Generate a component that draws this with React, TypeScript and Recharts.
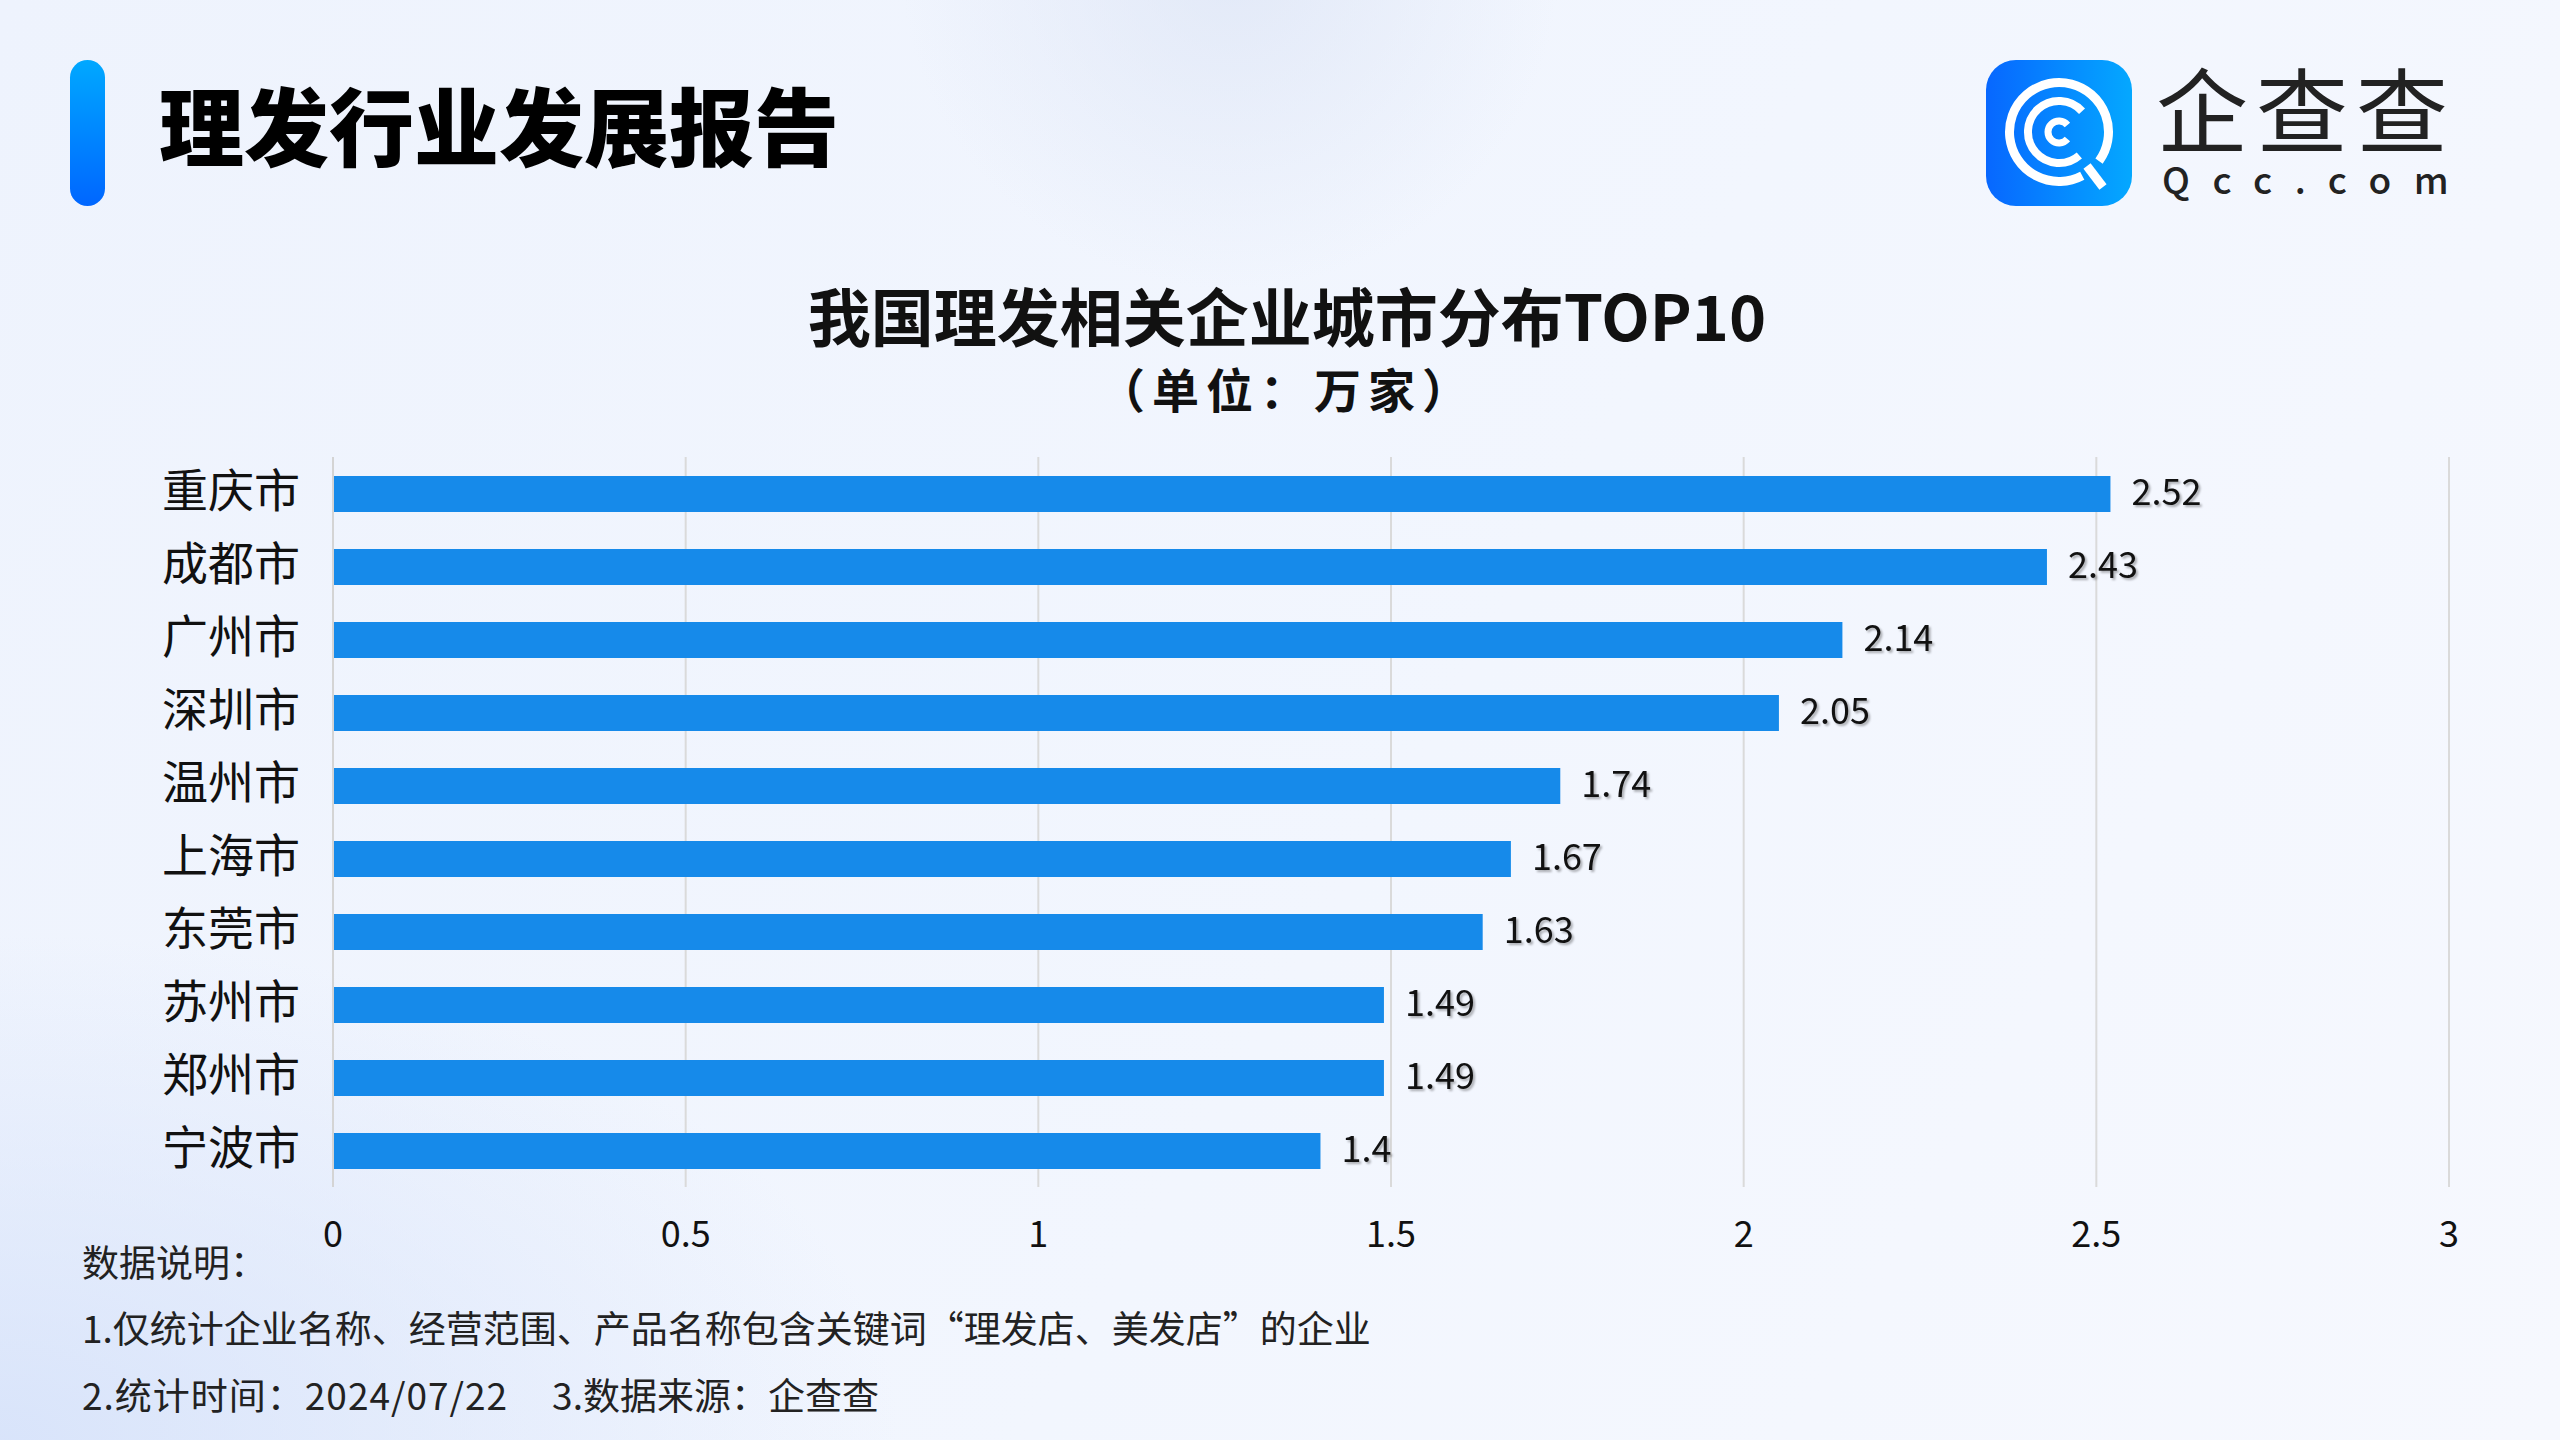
import { BarChart, Bar, XAxis, YAxis, CartesianGrid, LabelList } from 'recharts';

const cities = ['重庆市', '成都市', '广州市', '深圳市', '温州市', '上海市', '东莞市', '苏州市', '郑州市', '宁波市'];
const counts = [2.52, 2.43, 2.14, 2.05, 1.74, 1.67, 1.63, 1.49, 1.49, 1.4];
const xTicks = [0, 0.5, 1, 1.5, 2, 2.5, 3];

const notes = [
  '数据说明：',
  '1.仅统计企业名称、经营范围、产品名称包含关键词“理发店、美发店”的企业',
];
const noteDate = '2.统计时间：2024/07/22';
const noteSource = '3.数据来源：企查查';

const FONT = '"Noto Sans CJK SC", "Noto Sans", sans-serif';
const BAR_COLOR = '#168AEA';

const data = cities.map((name, i) => ({ name, value: counts[i] }));

// arc helper for the logo rings (angles in degrees, clockwise from +x)
function arc(cx: number, cy: number, r: number, from: number, to: number) {
  const rad = (d: number) => (d * Math.PI) / 180;
  const x1 = cx + r * Math.cos(rad(from));
  const y1 = cy + r * Math.sin(rad(from));
  const x2 = cx + r * Math.cos(rad(to));
  const y2 = cy + r * Math.sin(rad(to));
  const sweep = (to - from + 360) % 360;
  return `M ${x1} ${y1} A ${r} ${r} 0 ${sweep > 180 ? 1 : 0} 1 ${x2} ${y2}`;
}

function ValueLabel(props: any) {
  const { x, y, width, height, value } = props;
  return (
    <text
      x={x + width + 21}
      y={y + height / 2 - 5}
      dominantBaseline="central"
      fontSize={36}
      fontFamily={FONT}
      fill="#111"
      style={{ filter: 'drop-shadow(2px 2px 1px rgba(0,0,0,0.3))' }}
    >
      {value}
    </text>
  );
}

function Logo() {
  return (
    <div style={{ position: 'absolute', left: 1986, top: 60 }}>
      <svg width={146} height={146}>
        <defs>
          <linearGradient id="logoGrad" x1="0" y1="0" x2="1" y2="0">
            <stop offset="0%" stopColor="#0767ff" />
            <stop offset="100%" stopColor="#04a8ff" />
          </linearGradient>
        </defs>
        <rect x={0} y={0} width={146} height={146} rx={30} fill="url(#logoGrad)" />
        <g fill="none" stroke="#fff" strokeWidth={9}>
          <path d={arc(73, 72, 49.5, 62, 36)} />
          <path d={arc(73, 72, 31, 49, 318)} strokeWidth={8} />
          <path d={arc(73, 72, 11, 40, 320)} strokeWidth={7} />
          <line x1={101} y1={106} x2={117} y2={127} />
        </g>
      </svg>
      <div
        style={{
          position: 'absolute', left: 170, top: 6, fontFamily: FONT, fontSize: 92,
          lineHeight: '80px', color: '#222', letterSpacing: 8, whiteSpace: 'nowrap',
        }}
      >
        企查查
      </div>
      <div
        style={{
          position: 'absolute', left: 176, top: 100, fontFamily: FONT, fontSize: 37,
          lineHeight: '36px', color: '#222', letterSpacing: 22.5, fontWeight: 500, whiteSpace: 'nowrap',
        }}
      >
        Qcc.com
      </div>
    </div>
  );
}

export default function App() {
  return (
    <div
      style={{
        position: 'absolute', left: 0, top: 0, width: 2560, height: 1440, overflow: 'hidden',
        fontFamily: FONT,
        background:
          'radial-gradient(circle at 1230px -40px, rgba(220,228,245,0.7) 0px, rgba(220,228,245,0) 330px),' +
          'radial-gradient(ellipse at 0px 1440px, rgba(214,226,250,0.9) 0px, rgba(214,226,250,0) 900px),' +
          'linear-gradient(120deg, #eef3fd 0%, #f2f6fe 55%, #f6f8fe 100%)',
      }}
    >
      {/* header */}
      <div
        style={{
          position: 'absolute', left: 70, top: 60, width: 35, height: 146, borderRadius: 18,
          background: 'linear-gradient(180deg, #00a8ff 0%, #0066ff 100%)',
        }}
      />
      <div
        style={{
          position: 'absolute', left: 159, top: 81, fontSize: 85, lineHeight: '84px',
          fontWeight: 900, color: '#000', whiteSpace: 'nowrap',
        }}
      >
        理发行业发展报告
      </div>
      <Logo />

      {/* chart title */}
      <div
        style={{
          position: 'absolute', left: 687, width: 1200, top: 286, textAlign: 'center',
          fontSize: 63, lineHeight: '56px', fontWeight: 700, color: '#111',
        }}
      >
        我国理发相关企业城市分布TOP10
      </div>
      <div
        style={{
          position: 'absolute', left: 687, width: 1200, top: 366, textAlign: 'center',
          fontSize: 47, lineHeight: '44px', fontWeight: 700, color: '#111', letterSpacing: 7,
        }}
      >
        （单位：万家）
      </div>

      <div style={{ position: 'absolute', left: 0, top: 0 }}>
        <BarChart
          width={2560}
          height={1440}
          data={data}
          layout="vertical"
          margin={{ top: 457, right: 111, left: 0, bottom: 193 }}
          barCategoryGap={18}
        >
          <CartesianGrid horizontal={false} stroke="#dadada" strokeWidth={2} />
          <XAxis
            type="number"
            domain={[0, 3]}
            ticks={xTicks}
            axisLine={false}
            tickLine={false}
            tickSize={0}
            tickMargin={34}
            height={60}
            tick={{ fontSize: 36, fill: '#111', fontFamily: FONT }}
          />
          <YAxis
            type="category"
            dataKey="name"
            width={333}
            tickLine={false}
            tickSize={0}
            tickMargin={33}
            axisLine={{ stroke: '#d4d4d4', strokeWidth: 2 }}
            tick={{ fontSize: 46, fill: '#111', fontFamily: FONT, dy: -3 }}
          />
          <Bar dataKey="value" fill={BAR_COLOR} barSize={36} isAnimationActive={false}>
            <LabelList dataKey="value" content={<ValueLabel />} />
          </Bar>
        </BarChart>
      </div>

      {/* notes */}
      {notes.map((t, i) => (
        <div
          key={i}
          style={{
            position: 'absolute', left: 82, top: 1243 + i * 66, fontSize: 37, lineHeight: '36px',
            color: '#222', whiteSpace: 'nowrap',
          }}
        >
          {t}
        </div>
      ))}
      <div
        style={{
          position: 'absolute', left: 82, top: 1376, fontSize: 37, lineHeight: '36px',
          color: '#222', whiteSpace: 'nowrap',
        }}
      >
        <span style={{ letterSpacing: 1 }}>{noteDate}</span>
        <span style={{ marginLeft: 44 }}>{noteSource}</span>
      </div>
    </div>
  );
}
